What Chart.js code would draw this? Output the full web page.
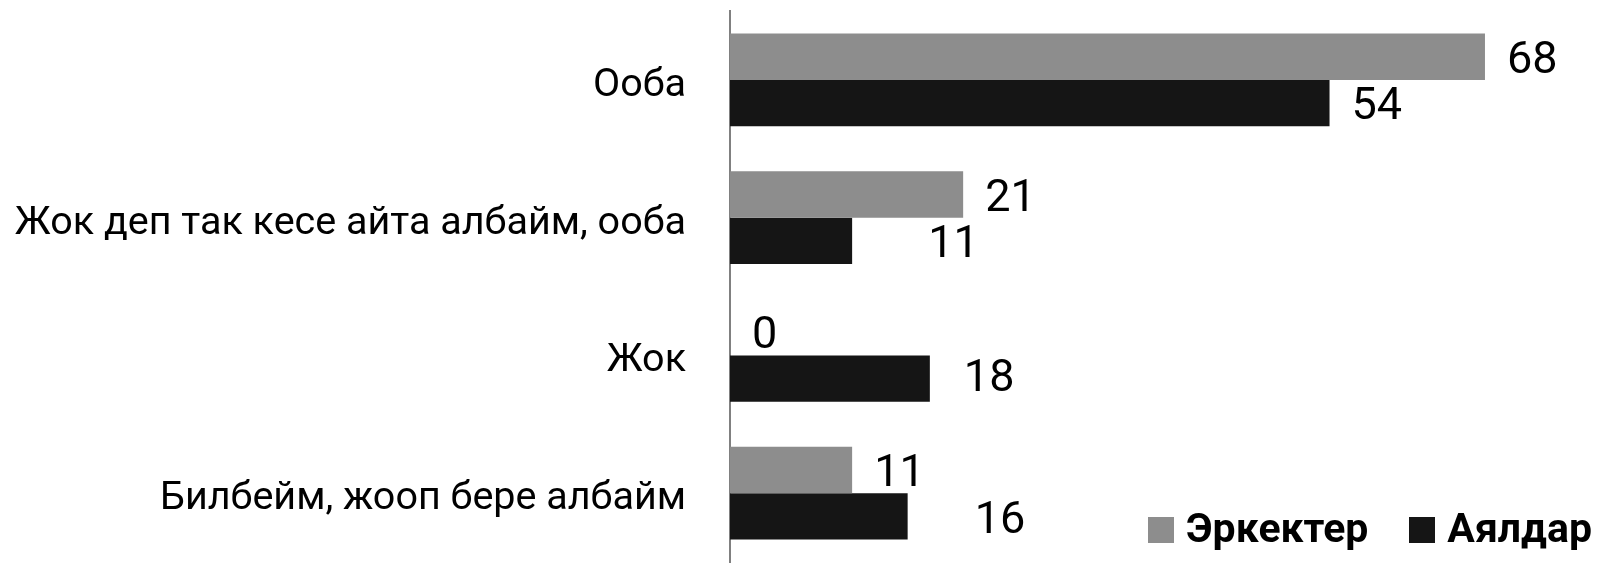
<!DOCTYPE html>
<html>
<head>
<meta charset="utf-8">
<script src="https://cdn.jsdelivr.net/npm/chart.js@4/dist/chart.umd.min.js"></script>
<style>
    html, body { margin: 0; padding: 0; background: #fff; }
    #wrap { position: relative; width: 1600px; height: 576px; }
    #legend {
        position: absolute; left: 1148px; top: 504px;
        font-family: Roboto, sans-serif; font-weight: bold; font-size: 41px;
        color: #000; white-space: nowrap; line-height: 48px;
    }
    #legend .item { display: inline-block; margin-right: 41px; }
    #legend .item:last-child { margin-right: 0; }
    #legend .box { display: inline-block; width: 26px; height: 26px; margin-right: 12px; vertical-align: -1px; }
</style>
</head>
<body>
<div id="wrap">
    <canvas id="chart" width="1600" height="576"></canvas>
    <div id="legend"></div>
</div>
<script>
// Chart data
const categories = ['Ооба', 'Жок деп так кесе айта албайм, ооба', 'Жок', 'Билбейм, жооп бере албайм'];
const seriesNames = ['Эркектер', 'Аялдар'];
const menValues = [68, 21, 0, 11];
const womenValues = [54, 11, 18, 16];
const seriesColors = ['#8d8d8d', '#151515'];

// some labels were dragged away from their bars in the original
const labelNudge = [
    [[0, 0], [0, 0], [0, 0], [0, 0]],
    [[0, 0], [54, 0], [12, -4], [45, 0]]
];

// Value labels next to each bar
const valueLabels = {
    id: 'valueLabels',
    afterDatasetsDraw(chart) {
        const ctx = chart.ctx;
        ctx.save();
        ctx.font = '45px Roboto, sans-serif';
        ctx.fillStyle = '#000';
        ctx.textAlign = 'left';
        ctx.textBaseline = 'middle';
        chart.data.datasets.forEach((ds, i) => {
            chart.getDatasetMeta(i).data.forEach((bar, j) => {
                const nudge = labelNudge[i][j];
                ctx.fillText(ds.data[j], bar.x + 22 + nudge[0], bar.y + 5 + nudge[1]);
            });
        });
        ctx.restore();
    }
};

// HTML legend
const legendEl = document.getElementById('legend');
seriesNames.forEach((name, i) => {
    const item = document.createElement('span');
    item.className = 'item';
    const box = document.createElement('span');
    box.className = 'box';
    box.style.background = seriesColors[i];
    item.appendChild(box);
    item.appendChild(document.createTextNode(name));
    legendEl.appendChild(item);
});

new Chart(document.getElementById('chart'), {
    type: 'bar',
    data: {
        labels: categories,
        datasets: [
            { label: seriesNames[0], data: menValues, backgroundColor: seriesColors[0] },
            { label: seriesNames[1], data: womenValues, backgroundColor: seriesColors[1] }
        ]
    },
    options: {
        indexAxis: 'y',
        responsive: false,
        animation: false,
        layout: { padding: { top: 11, bottom: 14, right: 4, left: 0 } },
        datasets: {
            bar: { barPercentage: 1.0, categoryPercentage: 0.675 }
        },
        plugins: {
            legend: { display: false },
            tooltip: { enabled: false }
        },
        scales: {
            x: {
                display: false,
                min: 0,
                max: 78
            },
            y: {
                afterFit: function (scale) {
                    scale.width = 730;
                    scale.paddingTop = 0;
                    scale.paddingBottom = 0;
                },
                grid: { display: false, drawTicks: false },
                border: { display: true, color: '#808080', width: 2 },
                ticks: {
                    color: '#000',
                    padding: 44,
                    labelOffset: 6,
                    font: { family: 'Roboto', size: 39.5 }
                }
            }
        }
    },
    plugins: [valueLabels]
});
</script>
</body>
</html>
